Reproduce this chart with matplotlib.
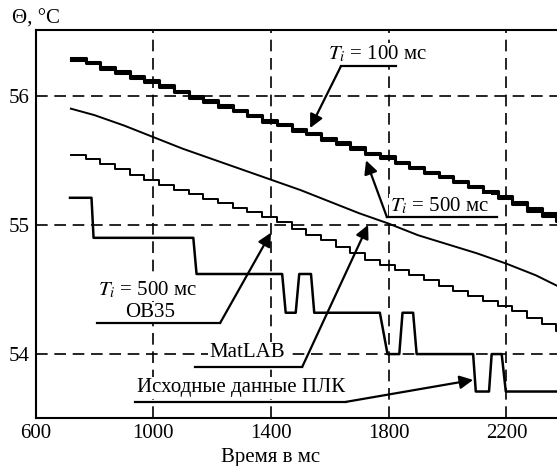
import matplotlib
matplotlib.use('Agg')
import matplotlib.pyplot as plt

plt.rcParams['font.family'] = ['Liberation Serif', 'DejaVu Serif']
plt.rcParams['mathtext.fontset'] = 'stix'
plt.rcParams['font.size'] = 15

# время отсчётов ступенчатых кривых, мс
step_t = [720, 770, 820, 870, 920, 970, 1020, 1070, 1120, 1170, 1220, 1270,
          1320, 1370, 1420, 1470, 1520, 1570, 1620, 1670, 1720, 1770, 1820,
          1870, 1920, 1970, 2020, 2070, 2120, 2170, 2220, 2270, 2320, 2370,
          2400]

# Ti = 100 мс
ti100_temp = [56.29, 56.26, 56.22, 56.19, 56.15, 56.12, 56.08, 56.04, 56.00,
              55.97, 55.93, 55.89, 55.85, 55.81, 55.78, 55.74, 55.71, 55.67,
              55.64, 55.60, 55.56, 55.53, 55.49, 55.45, 55.41, 55.38, 55.34,
              55.30, 55.26, 55.22, 55.18, 55.13, 55.09, 55.05, 55.05]

# Ti = 500 мс
ti500_temp = [56.28, 56.25, 56.21, 56.18, 56.14, 56.11, 56.07, 56.03, 55.98,
              55.95, 55.91, 55.88, 55.84, 55.80, 55.77, 55.73, 55.70, 55.66,
              55.63, 55.59, 55.55, 55.52, 55.48, 55.44, 55.40, 55.37, 55.33,
              55.29, 55.25, 55.21, 55.16, 55.11, 55.07, 55.03, 55.03]

# OB35, Ti = 500 мс
ob35_temp = [55.54, 55.51, 55.47, 55.43, 55.39, 55.35, 55.31, 55.27, 55.24,
             55.20, 55.17, 55.13, 55.10, 55.06, 55.02, 54.97, 54.92, 54.88,
             54.83, 54.78, 54.73, 54.69, 54.65, 54.61, 54.57, 54.53, 54.49,
             54.45, 54.41, 54.37, 54.33, 54.28, 54.23, 54.18, 54.18]

# MatLAB
matlab_t = [720, 800, 900, 1000, 1100, 1200, 1300, 1400, 1500, 1600, 1700,
            1800, 1900, 2000, 2100, 2200, 2300, 2380]
matlab_temp = [55.90, 55.85, 55.77, 55.68, 55.59, 55.51, 55.43, 55.35, 55.27,
               55.18, 55.09, 55.01, 54.92, 54.85, 54.78, 54.70, 54.61, 54.52]

# исходные данные ПЛК
plc_t = [717, 790, 797, 1136, 1147, 1438, 1450, 1484, 1496, 1536, 1547, 1770,
         1796, 1836, 1847, 1883, 1895, 2087, 2096, 2141, 2150, 2184, 2198, 2400]
plc_temp = [55.21, 55.21, 54.90, 54.90, 54.62, 54.62, 54.32, 54.32, 54.62,
            54.62, 54.32, 54.32, 54.00, 54.00, 54.32, 54.32, 54.00, 54.00,
            53.71, 53.71, 54.00, 54.00, 53.71, 53.71]

x_ticks = [600, 1000, 1400, 1800, 2200]
y_ticks = [54, 55, 56]


def label(ax, text, xy_text, line_x, line_y, tip):
    ax.text(xy_text[0], xy_text[1], text, ha='center', va='center',
            bbox=dict(facecolor='white', edgecolor='none', pad=1), zorder=5)
    ax.plot(line_x, [line_y, line_y], color='k', lw=1.6, zorder=6)
    start = line_x[1] if tip[0] > line_x[1] else line_x[0]
    ax.annotate('', xy=tip, xytext=(start, line_y),
                arrowprops=dict(arrowstyle='-|>', color='k', lw=1.6,
                                mutation_scale=20, shrinkA=0, shrinkB=0),
                zorder=6)


fig = plt.figure(figsize=(5.57, 4.66), dpi=100)
ax = fig.add_axes([0.0639, 0.103, 0.9361, 0.8326])

ax.plot(step_t, ti100_temp, drawstyle='steps-post', color='k', lw=2.2)
ax.plot(step_t, ti500_temp, drawstyle='steps-post', color='k', lw=2.2)
ax.plot(step_t, ob35_temp, drawstyle='steps-post', color='k', lw=1.4)
ax.plot(matlab_t, matlab_temp, color='k', lw=1.4)
ax.plot(plc_t, plc_temp, color='k', lw=1.8)

ax.set_xlim(600, 2372)
ax.set_ylim(53.505, 56.509)
ax.set_xticks(x_ticks)
ax.set_yticks(y_ticks)
ax.tick_params(length=0, pad=4)
ax.grid(True, color='k', lw=1.2, linestyle=(0, (7, 4)))
for s in ['left', 'top', 'bottom']:
    ax.spines[s].set_linewidth(1.5)
ax.spines['right'].set_visible(False)

label(ax, r'$T_i$ = 100 мс', (1763, 56.32), [1638, 1825], 56.23, (1533, 55.75))
label(ax, r'$T_i$ = 500 мс', (1974, 55.15), [1794, 2168], 55.06, (1723, 55.50))
ax.text(979, 54.50, r'$T_i$ = 500 мс', ha='center', va='center',
        bbox=dict(facecolor='white', edgecolor='none', pad=1), zorder=5)
label(ax, 'OB35', (989, 54.32), [809, 1227], 54.24, (1400, 54.94))
label(ax, 'MatLAB', (1318, 54.01), [1142, 1506], 53.90, (1730, 55.00))
label(ax, 'Исходные данные ПЛК', (1298, 53.74), [938, 1655], 53.63, (2087, 53.80))

fig.text(271 / 557, 4 / 466, 'Время в мс', ha='center', va='baseline')
fig.text(12 / 557, 1 - 29 / 466, 'Θ, °C', ha='left', va='bottom')

fig.savefig('out.png', dpi=100)
